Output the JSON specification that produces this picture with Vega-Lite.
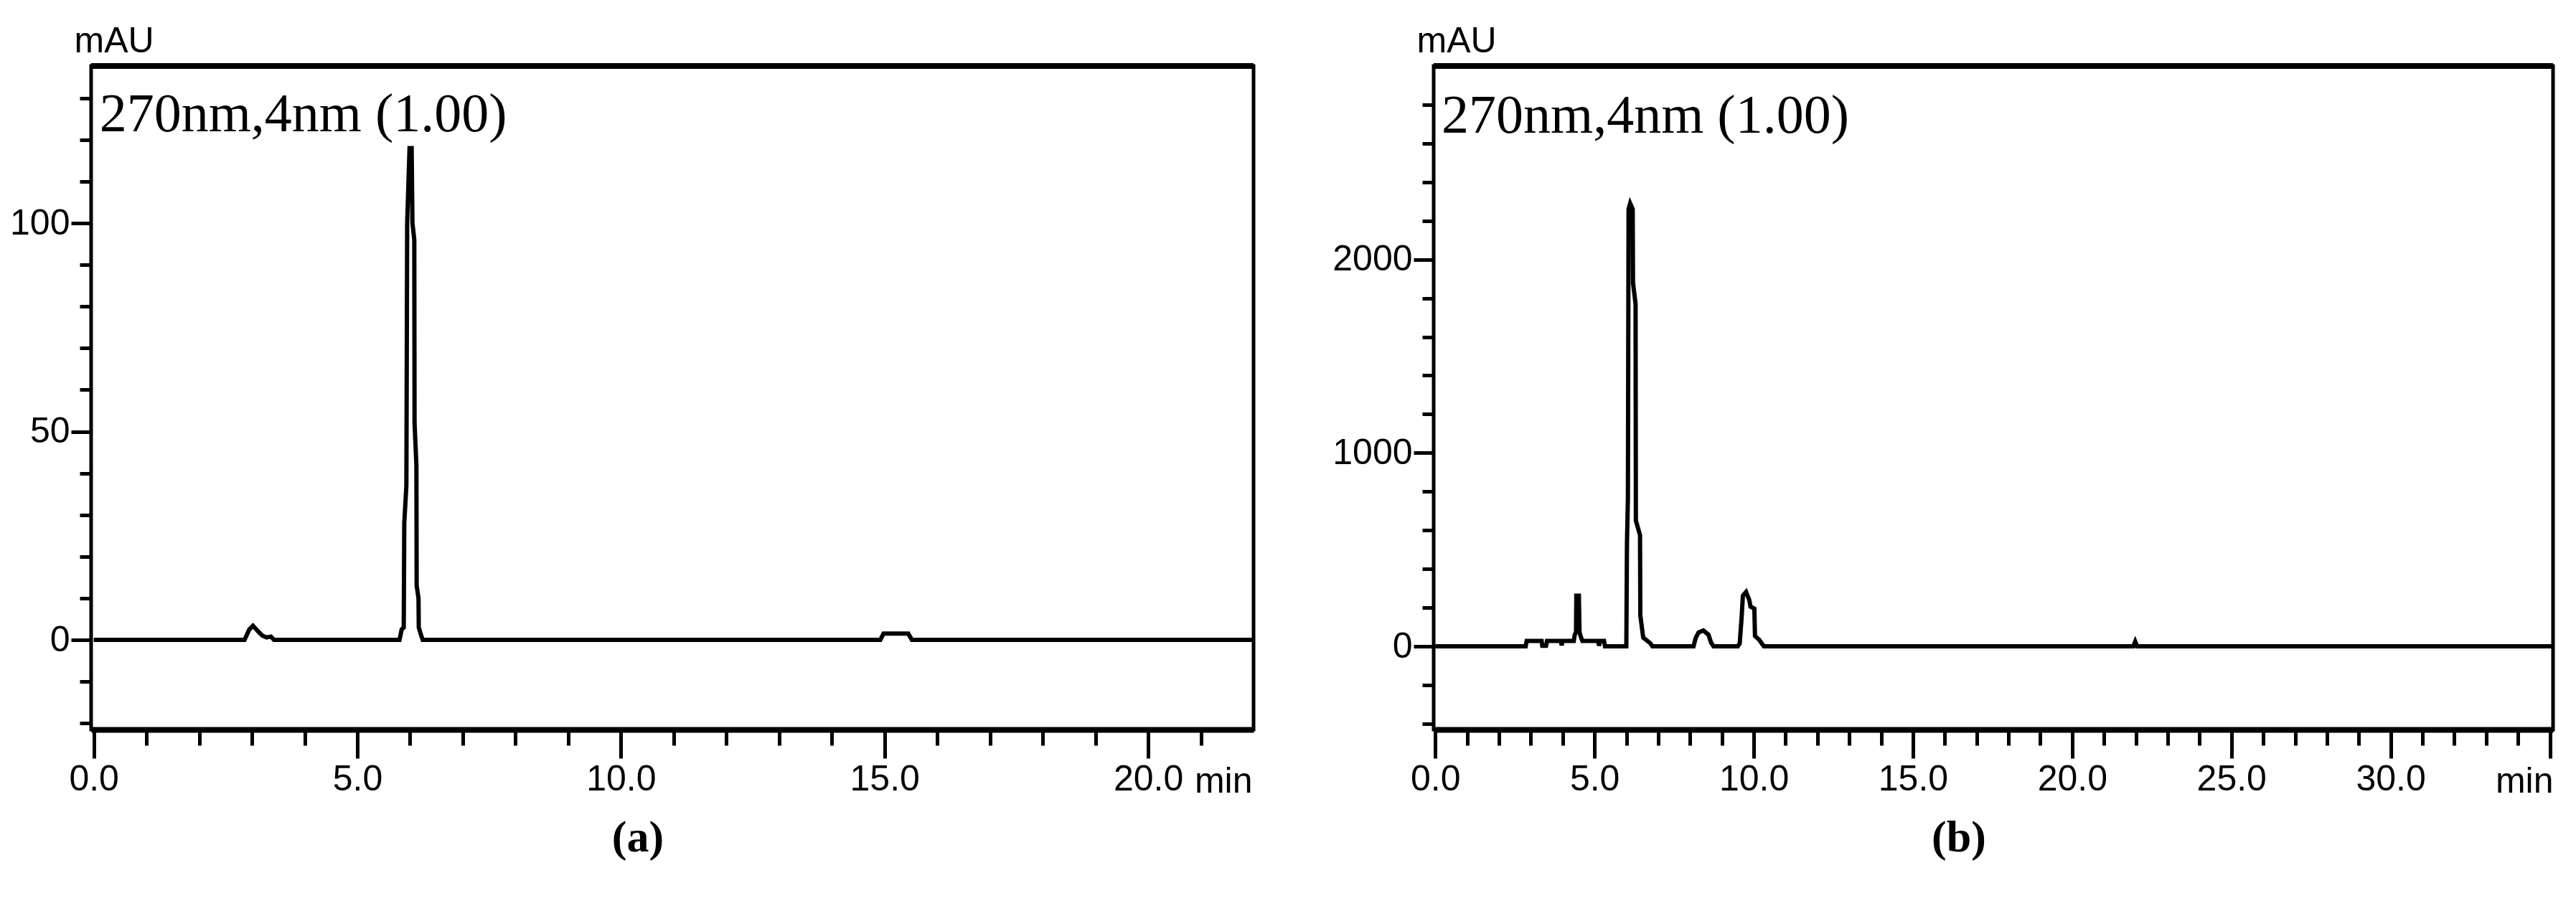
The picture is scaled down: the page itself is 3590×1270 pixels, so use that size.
{
  "$schema": "https://vega.github.io/schema/vega-lite/v6.json",
  "background": "white",
  "padding": {"left": 11, "top": 29, "right": 0, "bottom": 0},
  "spacing": 251,
  "bounds": "flush",
  "datasets": {
    "a": [
      {"t": 0, "v": 0}, {"t": 2.86, "v": 0}, {"t": 2.95, "v": 2.5}, {"t": 3.02, "v": 3.4}, {"t": 3.12, "v": 2},
      {"t": 3.2, "v": 1}, {"t": 3.28, "v": 0.6}, {"t": 3.36, "v": 0.8}, {"t": 3.42, "v": 0},
      {"t": 5.8, "v": 0}, {"t": 5.84, "v": 2.5}, {"t": 5.88, "v": 3}, {"t": 5.89, "v": 28}, {"t": 5.93, "v": 37},
      {"t": 5.945, "v": 100}, {"t": 5.99, "v": 118}, {"t": 6.03, "v": 118}, {"t": 6.045, "v": 100}, {"t": 6.08, "v": 96},
      {"t": 6.085, "v": 52}, {"t": 6.12, "v": 42}, {"t": 6.125, "v": 13}, {"t": 6.16, "v": 10}, {"t": 6.165, "v": 3},
      {"t": 6.2, "v": 1.5}, {"t": 6.24, "v": 0},
      {"t": 14.92, "v": 0}, {"t": 14.98, "v": 1.5}, {"t": 15.45, "v": 1.5}, {"t": 15.52, "v": 0}, {"t": 22, "v": 0}
    ],
    "b": [
      {"t": 0, "v": 0}, {"t": 2.84, "v": 0}, {"t": 2.87, "v": 28}, {"t": 3.34, "v": 28}, {"t": 3.36, "v": 3},
      {"t": 3.48, "v": 3}, {"t": 3.51, "v": 28}, {"t": 3.94, "v": 28}, {"t": 3.97, "v": 5}, {"t": 4.0, "v": 28},
      {"t": 4.35, "v": 28}, {"t": 4.38, "v": 60}, {"t": 4.42, "v": 72}, {"t": 4.43, "v": 262}, {"t": 4.51, "v": 262},
      {"t": 4.53, "v": 72}, {"t": 4.57, "v": 50}, {"t": 4.62, "v": 28}, {"t": 5.12, "v": 28}, {"t": 5.14, "v": 3},
      {"t": 5.18, "v": 28}, {"t": 5.3, "v": 28}, {"t": 5.33, "v": 0},
      {"t": 6.0, "v": 0}, {"t": 6.02, "v": 530}, {"t": 6.05, "v": 770}, {"t": 6.07, "v": 2260}, {"t": 6.12, "v": 2290},
      {"t": 6.2, "v": 2260}, {"t": 6.21, "v": 1880}, {"t": 6.29, "v": 1770}, {"t": 6.3, "v": 650}, {"t": 6.43, "v": 575},
      {"t": 6.44, "v": 160}, {"t": 6.53, "v": 45}, {"t": 6.76, "v": 15}, {"t": 6.82, "v": 0},
      {"t": 8.11, "v": 0}, {"t": 8.18, "v": 44}, {"t": 8.27, "v": 72}, {"t": 8.42, "v": 82}, {"t": 8.58, "v": 60},
      {"t": 8.66, "v": 20}, {"t": 8.74, "v": 0},
      {"t": 9.5, "v": 0}, {"t": 9.56, "v": 15}, {"t": 9.62, "v": 148}, {"t": 9.66, "v": 262}, {"t": 9.76, "v": 281},
      {"t": 9.86, "v": 240}, {"t": 9.9, "v": 205}, {"t": 10.02, "v": 195}, {"t": 10.04, "v": 53}, {"t": 10.17, "v": 34},
      {"t": 10.32, "v": 0},
      {"t": 21.92, "v": 0}, {"t": 21.98, "v": 25}, {"t": 22.04, "v": 0}, {"t": 35.1, "v": 0}
    ]
  },
  "hconcat": [
    {
      "width": 1620,
      "height": 925,
      "title": {"text": "(a)", "orient": "bottom", "font": "Liberation Serif", "fontSize": 62, "fontWeight": "bold", "dx": -48, "offset": 24, "color": "black"},
      "layer": [
        {
          "data": {"name": "a"},
          "mark": {"type": "line", "color": "black", "strokeWidth": 6},
          "encoding": {
            "x": {
              "field": "t", "type": "quantitative",
              "scale": {"domain": [-0.05, 22], "nice": false, "zero": false},
              "axis": {
                "orient": "bottom",
                "values": [0,1,2,3,4,5,6,7,8,9,10,11,12,13,14,15,16,17,18,19,20,21],
                "labelExpr": "datum.value % 5 === 0 ? format(datum.value, '.1f') : ''",
                "tickSize": {"condition": {"test": "datum.value % 5 === 0", "value": 40}, "value": 22},
                "domainWidth": 8,
                "labelPadding": 4,
                "title": "min", "titleX": 1618, "titleY": 87, "titleAlign": "right", "titleBaseline": "alphabetic"
              }
            },
            "y": {
              "field": "v", "type": "quantitative",
              "scale": {"domain": [-21.5, 137.7], "nice": false, "zero": false},
              "axis": {
                "orient": "left",
                "values": [-20,-10,0,10,20,30,40,50,60,70,80,90,100,110,120,130],
                "labelExpr": "datum.value % 50 === 0 ? format(datum.value, 'd') : ''",
                "tickSize": {"condition": {"test": "datum.value % 50 === 0", "value": 28}, "value": 16},
                "domain": false,
                "labelPadding": 2,
                "title": "mAU", "titleAngle": 0, "titleX": -24, "titleY": -20, "titleAlign": "left", "titleBaseline": "alphabetic"
              }
            }
          }
        },
        {
          "data": {"values": [{}]},
          "mark": {"type": "rule", "color": "black", "strokeWidth": 8},
          "encoding": {"y": {"datum": 137.7}}
        },
        {
          "data": {"values": [{}]},
          "mark": {"type": "text", "text": "270nm,4nm (1.00)", "font": "Liberation Serif", "fontSize": 76, "align": "left", "baseline": "alphabetic", "color": "black"},
          "encoding": {"x": {"datum": 0.11}, "y": {"datum": 122}}
        }
      ]
    },
    {
      "width": 1560,
      "height": 925,
      "title": {"text": "(b)", "orient": "bottom", "font": "Liberation Serif", "fontSize": 62, "fontWeight": "bold", "dx": -48, "offset": 24, "color": "black"},
      "layer": [
        {
          "data": {"name": "b"},
          "mark": {"type": "line", "color": "black", "strokeWidth": 6},
          "encoding": {
            "x": {
              "field": "t", "type": "quantitative",
              "scale": {"domain": [-0.05, 35.1], "nice": false, "zero": false},
              "axis": {
                "orient": "bottom",
                "values": [0,1,2,3,4,5,6,7,8,9,10,11,12,13,14,15,16,17,18,19,20,21,22,23,24,25,26,27,28,29,30,31,32,33,34,35],
                "labelExpr": "datum.value % 5 === 0 && datum.value < 35 ? format(datum.value, '.1f') : ''",
                "tickSize": {"condition": {"test": "datum.value % 5 === 0", "value": 40}, "value": 22},
                "domainWidth": 8,
                "labelPadding": 4,
                "title": "min", "titleX": 1560, "titleY": 87, "titleAlign": "right", "titleBaseline": "alphabetic"
              }
            },
            "y": {
              "field": "v", "type": "quantitative",
              "scale": {"domain": [-430, 3000], "nice": false, "zero": false},
              "axis": {
                "orient": "left",
                "values": [-400,-200,0,200,400,600,800,1000,1200,1400,1600,1800,2000,2200,2400,2600,2800],
                "labelExpr": "datum.value % 1000 === 0 ? format(datum.value, 'd') : ''",
                "tickSize": {"condition": {"test": "datum.value % 1000 === 0", "value": 28}, "value": 16},
                "domain": false,
                "labelPadding": 2,
                "title": "mAU", "titleAngle": 0, "titleX": -24, "titleY": -20, "titleAlign": "left", "titleBaseline": "alphabetic"
              }
            }
          }
        },
        {
          "data": {"values": [{}]},
          "mark": {"type": "rule", "color": "black", "strokeWidth": 8},
          "encoding": {"y": {"datum": 3000}}
        },
        {
          "data": {"values": [{}]},
          "mark": {"type": "text", "text": "270nm,4nm (1.00)", "font": "Liberation Serif", "fontSize": 76, "align": "left", "baseline": "alphabetic", "color": "black"},
          "encoding": {"x": {"datum": 0.2}, "y": {"datum": 2654}}
        }
      ]
    }
  ],
  "config": {
    "view": {"stroke": "black", "strokeWidth": 5},
    "axis": {
      "grid": false,
      "labelFont": "Liberation Sans Narrow, Arial Narrow, Liberation Sans, sans-serif",
      "labelFontSize": 50,
      "labelColor": "black",
      "labelFlush": false,
      "labelOverlap": false,
      "tickColor": "black",
      "tickWidth": 5,
      "domainColor": "black",
      "titleFont": "Liberation Sans Narrow, Arial Narrow, Liberation Sans, sans-serif",
      "titleFontSize": 50,
      "titleFontWeight": "normal",
      "titleColor": "black"
    }
  }
}
